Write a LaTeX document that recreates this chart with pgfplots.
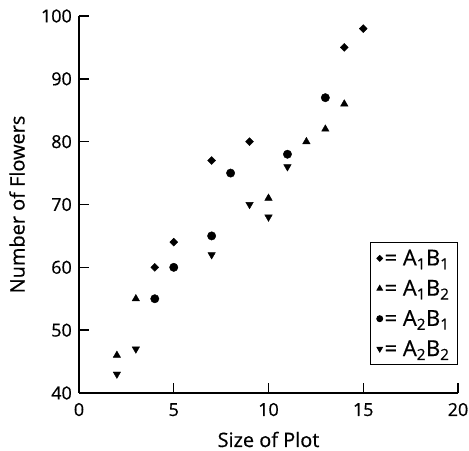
\documentclass[border=0pt]{standalone}
\usepackage{pgfplots}
\pgfplotsset{compat=1.18}
\usepackage{fontspec}
\setmainfont{Open Sans}[FakeBold=0.6]
\begin{document}
\begin{tikzpicture}
\begin{axis}[
  name=main,
  scale only axis,
  width=379bp, height=377bp,
  xmin=0, xmax=20, ymin=40, ymax=100,
  axis lines*=left,
  axis line style={line width=1.4pt},
  xtick={0,5,10,15,20}, ytick={40,50,60,70,80,90,100},
  tick align=inside,
  major tick length=10bp,
  tick style={black, line width=1.4pt},
  /pgf/number format/assume math mode=true,
  ticklabel style={font=\fontsize{18}{20}\selectfont},
  xticklabel style={anchor=base, inner sep=0pt, yshift=-23bp},
  yticklabel style={anchor=east, inner sep=0pt, xshift=-7bp},
  xlabel={Size of Plot},
  ylabel={Number of Flowers},
  every axis x label/.style={at={(axis description cs:0.5,0)}, anchor=base, yshift=-54bp, font=\fontsize{20}{23}\selectfont},
  every axis y label/.style={at={(axis description cs:0,0.5)}, xshift=-62bp, rotate=90, anchor=center, font=\fontsize{20}{23}\selectfont},
  clip=false,
  legend style={at={(axis description cs:1,0.0743)}, anchor=south east, draw=black, line width=1pt,
    font=\fontsize{22}{24}\selectfont, row sep=9bp, inner xsep=6bp, inner ysep=5bp,
    cells={anchor=west}},
  legend image post style={scale=0.7},
  legend cell align=left,
]
\addplot[only marks, mark=square*, mark options={rotate=45}, mark size=2.8bp, black] coordinates {
(4,60) (5,64) (7,77) (9,80) (14,95) (15,98)};
\addlegendentry{= A\textsubscript{1}B\textsubscript{1}}
\addplot[only marks, mark=triangle*, mark size=4.3bp, black] coordinates {
(2,46) (3,55) (10,71) (12,80) (13,82) (14,86)};
\addlegendentry{= A\textsubscript{1}B\textsubscript{2}}
\addplot[only marks, mark=*, mark size=4.2bp, black] coordinates {
(4,55) (5,60) (7,65) (8,75) (11,78) (13,87)};
\addlegendentry{= A\textsubscript{2}B\textsubscript{1}}
\addplot[only marks, mark=triangle*, mark options={rotate=180}, mark size=4.3bp, black] coordinates {
(2,43) (3,47) (7,62) (9,70) (10,68) (11,76)};
\addlegendentry{= A\textsubscript{2}B\textsubscript{2}}
\end{axis}
\foreach \i in {1,2,3,4} {\draw[line width=1.4pt, black] ([xshift=\i*94.75bp]main.south west) -- ++(0,10bp);}
\foreach \i in {1,2,3,4,5,6} {\draw[line width=1.4pt, black] ([yshift=\i*62.833bp]main.south west) -- ++(10bp,0);}
\path[use as bounding box] ([xshift=-79bp,yshift=-56bp]main.south west) rectangle ([xshift=11bp,yshift=16bp]main.north east);
\end{tikzpicture}
\end{document}
